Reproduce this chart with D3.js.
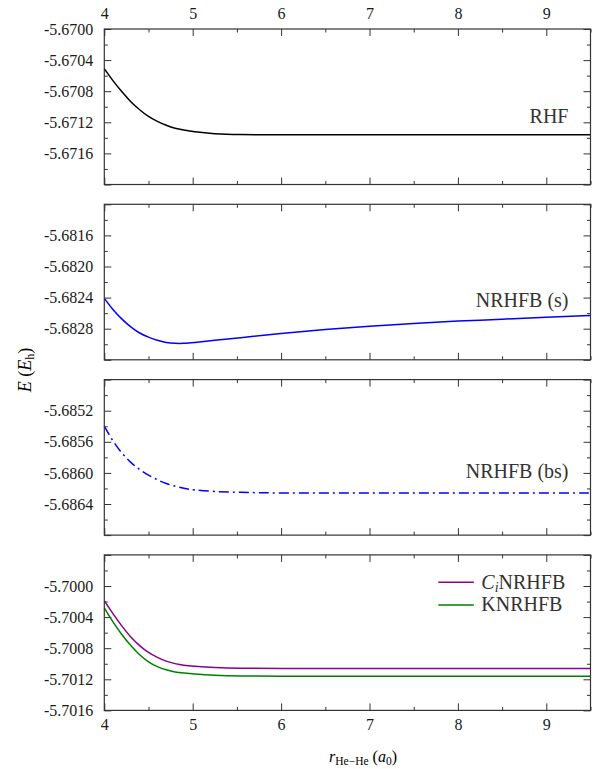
<!DOCTYPE html>
<html>
<head>
<meta charset="utf-8">
<script src="https://cdn.jsdelivr.net/npm/d3@7"></script>
<style>
  html, body { margin: 0; padding: 0; background: #fff; }
</style>
</head>
<body>
<div id="container"></div>
<script>
(function(){
  "use strict";
  // separation r_He-He (a0), shared by every series
  var rValues = [4.0, 4.1, 4.2, 4.3, 4.4, 4.5, 4.6, 4.7, 4.8, 4.9, 5.0, 5.25, 5.5,
                 6.0, 6.5, 7.0, 7.5, 8.0, 8.5, 9.0, 9.5];
  var rhf = [-5.67051, -5.67067, -5.67081, -5.67094, -5.67104, -5.67113, -5.67119,
             -5.67124, -5.67128, -5.67130, -5.67132, -5.67135, -5.67136,
             -5.67136, -5.67136, -5.67136, -5.67136, -5.67136, -5.67136, -5.67136, -5.67136];
  var nrhfbS = [-5.68241, -5.68256, -5.68268, -5.68278, -5.68286, -5.68291, -5.68295,
                -5.68298, -5.68299, -5.68299, -5.68298, -5.68295, -5.68292,
                -5.68286, -5.68281, -5.68277, -5.68273, -5.68270, -5.68268, -5.68265, -5.68263];
  var nrhfbBs = [-5.68540, -5.68560, -5.68575, -5.68587, -5.68596, -5.68603, -5.68609,
                 -5.68614, -5.68617, -5.68620, -5.68622, -5.68624, -5.68625,
                 -5.68626, -5.68626, -5.68626, -5.68626, -5.68626, -5.68626, -5.68626, -5.68626];
  var ciNrhfb = [-5.70019, -5.70036, -5.70052, -5.70066, -5.70077, -5.70086, -5.70092,
                 -5.70097, -5.70100, -5.70102, -5.70103, -5.70105, -5.70106,
                 -5.70106, -5.70106, -5.70106, -5.70106, -5.70106, -5.70106, -5.70106, -5.70106];
  var knrhfb = [-5.70028, -5.70047, -5.70063, -5.70077, -5.70089, -5.70098, -5.70104,
                -5.70108, -5.70111, -5.70112, -5.70113, -5.70115, -5.70116,
                -5.70116, -5.70116, -5.70116, -5.70116, -5.70116, -5.70116, -5.70116, -5.70116];

  var xDomain = [4, 9.5];
  var xMajor = [4, 5, 6, 7, 8, 9];
  var xMinor = [4.5, 5.5, 6.5, 7.5, 8.5, 9.5];

  var yDomains = [[-5.6720, -5.6700], [-5.6832, -5.6812], [-5.6868, -5.6848], [-5.7016, -5.6996]];
  var yMajor = [
    [-5.6720, -5.6716, -5.6712, -5.6708, -5.6704, -5.6700],
    [-5.6832, -5.6828, -5.6824, -5.6820, -5.6816, -5.6812],
    [-5.6868, -5.6864, -5.6860, -5.6856, -5.6852, -5.6848],
    [-5.7016, -5.7012, -5.7008, -5.7004, -5.7000, -5.6996]
  ];
  var yLabelled = [
    [-5.6716, -5.6712, -5.6708, -5.6704, -5.6700],
    [-5.6828, -5.6824, -5.6820, -5.6816],
    [-5.6864, -5.6860, -5.6856, -5.6852],
    [-5.7016, -5.7012, -5.7008, -5.7004, -5.7000]
  ];
  var yMinor = [
    [-5.6718, -5.6714, -5.6710, -5.6706, -5.6702],
    [-5.6830, -5.6826, -5.6822, -5.6818, -5.6814],
    [-5.6866, -5.6862, -5.6858, -5.6854, -5.6850],
    [-5.7014, -5.7010, -5.7006, -5.7002, -5.6998]
  ];

  var panels = [
    {series: [{values: rhf, color: "#000000", dash: null}], label: "RHF"},
    {series: [{values: nrhfbS, color: "#0000ff", dash: null}], label: "NRHFB (s)"},
    {series: [{values: nrhfbBs, color: "#0000ff", dash: "10,4,2,4"}], label: "NRHFB (bs)"},
    {series: [{values: ciNrhfb, color: "#8b008b", dash: null},
              {values: knrhfb, color: "#008000", dash: null}], label: null}
  ];

  var serif = "'Liberation Serif', Tinos, 'Times New Roman', 'DejaVu Serif', serif";
  var margin = {top: 29, left: 104.3};
  var width = 486.2;
  var panelHeight = 155.5;
  var gap = 19.8;
  var majorLen = 7, minorLen = 3.5;

  var svg = d3.select("#container").append("svg")
      .attr("width", 606)
      .attr("height", 769)
      .attr("font-family", serif);

  var xScale = d3.scaleLinear().domain(xDomain).range([0, width]);
  var fmt = function(d) { return d.toFixed(4); };

  panels.forEach(function(panel, i) {
    var top = margin.top + i * (panelHeight + gap);
    var chart = svg.append("g")
        .attr("transform", "translate(" + margin.left + "," + top + ")");
    var yScale = d3.scaleLinear().domain(yDomains[i]).range([panelHeight, 0]);

    function addAxis(axis, tx, ty) {
      var g = chart.append("g")
          .attr("transform", "translate(" + tx + "," + ty + ")")
          .call(axis)
          .attr("font-family", serif)
          .attr("font-size", 16);
      g.select(".domain").remove();
      g.selectAll("line").attr("stroke", "#333").attr("stroke-width", 1);
      g.selectAll("text").attr("fill", "#1a1a1a");
      return g;
    }

    // y ticks, left and right, pointing inward
    var leftAxis = d3.axisLeft(yScale).tickValues(yMajor[i]).tickSizeInner(-majorLen)
        .tickSizeOuter(0).tickPadding(11)
        .tickFormat(function(d) {
          var hit = yLabelled[i].some(function(v) { return Math.abs(v - d) < 1e-7; });
          return hit ? fmt(d) : "";
        });
    addAxis(leftAxis, 0, 0);
    addAxis(d3.axisLeft(yScale).tickValues(yMinor[i]).tickSizeInner(-minorLen).tickSizeOuter(0).tickFormat(""), 0, 0);
    addAxis(d3.axisRight(yScale).tickValues(yMajor[i]).tickSizeInner(-majorLen).tickSizeOuter(0).tickFormat(""), width, 0);
    addAxis(d3.axisRight(yScale).tickValues(yMinor[i]).tickSizeInner(-minorLen).tickSizeOuter(0).tickFormat(""), width, 0);

    // x ticks, top and bottom
    var topAxis = d3.axisTop(xScale).tickValues(xMajor).tickSizeInner(-majorLen).tickSizeOuter(0)
        .tickPadding(10).tickFormat(d3.format("d"));
    if (i !== 0) topAxis.tickFormat("");
    addAxis(topAxis, 0, 0);
    addAxis(d3.axisTop(xScale).tickValues(xMinor).tickSizeInner(-minorLen).tickSizeOuter(0).tickFormat(""), 0, 0);
    var bottomAxis = d3.axisBottom(xScale).tickValues(xMajor).tickSizeInner(-majorLen).tickSizeOuter(0)
        .tickPadding(8).tickFormat(d3.format("d"));
    if (i !== panels.length - 1) bottomAxis.tickFormat("");
    addAxis(bottomAxis, 0, panelHeight);
    addAxis(d3.axisBottom(xScale).tickValues(xMinor).tickSizeInner(-minorLen).tickSizeOuter(0).tickFormat(""), 0, panelHeight);

    var line = d3.line()
        .x(function(d, k) { return xScale(rValues[k]); })
        .y(function(d) { return yScale(d); })
        .curve(d3.curveBasis);

    panel.series.forEach(function(s) {
      chart.append("path")
          .attr("d", line(s.values))
          .attr("fill", "none")
          .attr("stroke", s.color)
          .attr("stroke-width", 1.5)
          .attr("stroke-dasharray", s.dash);
    });

    chart.append("rect")
        .attr("width", width)
        .attr("height", panelHeight)
        .attr("fill", "none")
        .attr("stroke", "#333")
        .attr("stroke-width", 1.2);

    if (panel.label) {
      chart.append("text")
          .attr("x", width - 22)
          .attr("y", [93.5, 103, 98][i])
          .attr("text-anchor", "end")
          .attr("font-size", 20)
          .attr("fill", "#333")
          .text(panel.label);
    }

    if (i === panels.length - 1) {
      // legend
      var legendItems = [{color: "#8b008b", y: 27.4, sub: true}, {color: "#008000", y: 50, sub: false}];
      legendItems.forEach(function(item) {
        chart.append("line")
            .attr("x1", 334).attr("x2", 369.5)
            .attr("y1", item.y).attr("y2", item.y)
            .attr("stroke", item.color).attr("stroke-width", 1.5);
        var t = chart.append("text")
            .attr("x", 377).attr("y", item.y + 6.5)
            .attr("font-size", 20).attr("fill", "#333");
        if (item.sub) {
          t.append("tspan").attr("font-style", "italic").text("C");
          t.append("tspan").attr("font-style", "italic").attr("font-size", 14).attr("dy", 3).text("i");
          t.append("tspan").attr("dy", -3).text("NRHFB");
        } else {
          t.text("KNRHFB");
        }
      });
    }
  });

  // axis titles
  var xt = svg.append("text")
      .attr("x", 329).attr("y", 762)
      .attr("font-size", 16);
  xt.append("tspan").attr("font-style", "italic").text("r");
  xt.append("tspan").attr("font-size", 11.5).attr("dy", 3).text("He\u2212He");
  xt.append("tspan").attr("dy", -3).text(" (");
  xt.append("tspan").attr("font-style", "italic").text("a");
  xt.append("tspan").attr("font-size", 11.5).attr("dy", 3).text("0");
  xt.append("tspan").attr("dy", -3).text(")");

  var yt = svg.append("text")
      .attr("transform", "translate(31,370) rotate(-90)")
      .attr("text-anchor", "middle")
      .attr("font-size", 18);
  yt.append("tspan").attr("font-style", "italic").text("E");
  yt.append("tspan").text(" (");
  yt.append("tspan").attr("font-style", "italic").text("E");
  yt.append("tspan").attr("font-size", 12).attr("dy", 3).text("h");
  yt.append("tspan").attr("dy", -3).text(")");
})();
</script>
</body>
</html>
